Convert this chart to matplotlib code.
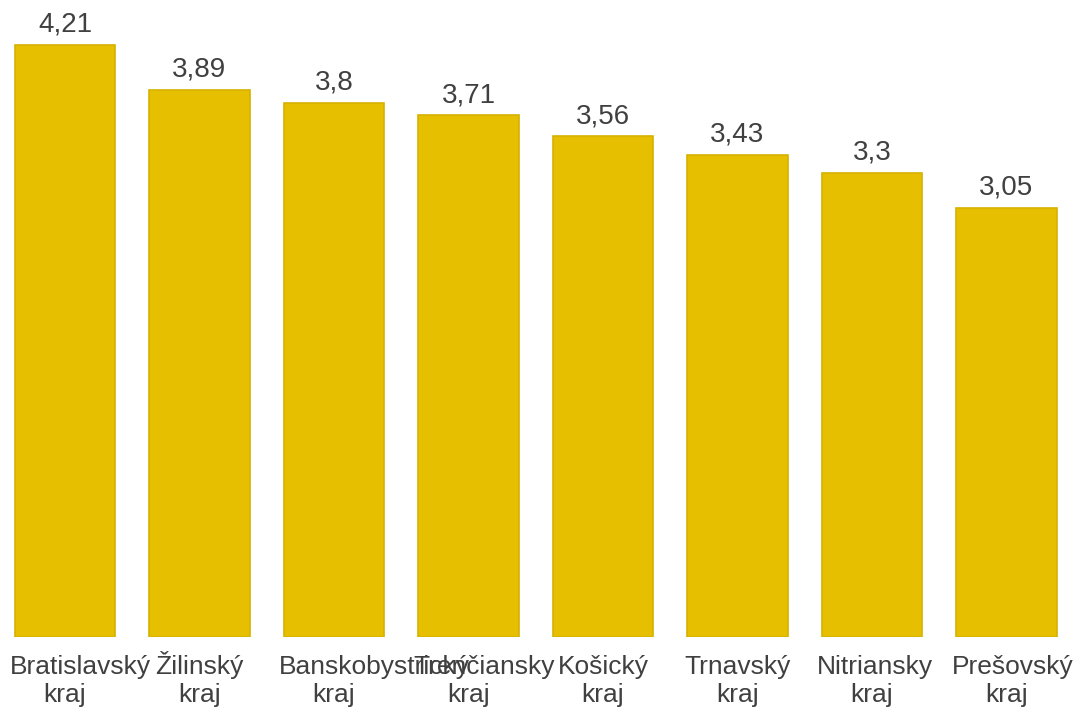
import numpy as np
import matplotlib.pyplot as plt
import matplotlib.transforms as mtransforms

kraje = ["Bratislavský", "Žilinský", "Banskobystrický", "Trenčiansky",
         "Košický", "Trnavský", "Nitriansky", "Prešovský"]
hodnoty = [4.21, 3.89, 3.8, 3.71, 3.56, 3.43, 3.3, 3.05]

plt.rcParams['font.family'] = ['Liberation Sans', 'DejaVu Sans']

fig = plt.figure(figsize=(10.86, 7.17), dpi=100)
ax = fig.add_axes([0, 80 / 717, 1, 637 / 717])

x = np.arange(len(hodnoty))
ax.bar(x, hodnoty, width=0.745, color="#E5BF00", edgecolor="#D6B200", linewidth=1.2)

for xi, v in zip(x, hodnoty):
    txt = f"{v:g}".replace(".", ",")
    ax.annotate(txt, (xi, v), xytext=(0, 9.5), textcoords="offset points",
                ha="center", va="baseline", fontsize=20, color="#404040")

ax.set_xlim((0 - 65) / 134.5, (1086 - 65) / 134.5)
ax.set_ylim(0, 4.53)
ax.set_xticks([])
ax.set_yticks([])
for s in ax.spines.values():
    s.set_visible(False)

# category labels: centred in a box ~110 px wide, overflowing to the right if too long
trans = mtransforms.blended_transform_factory(ax.transData, fig.transFigure)
fig.canvas.draw()
renderer = fig.canvas.get_renderer()
polovica = 55 / 134.5
for xi, nazov in zip(x, kraje):
    t = ax.text(xi, 1 - 674 / 717, nazov, transform=trans, ha="center", va="baseline",
                fontsize=19, color="#404040")
    if t.get_window_extent(renderer).width > 110:
        t.set_ha("left")
        t.set_x(xi - polovica)
    ax.text(xi, 1 - 702 / 717, "kraj", transform=trans, ha="center", va="baseline",
            fontsize=19, color="#404040")

fig.savefig("out.png", dpi=100)
